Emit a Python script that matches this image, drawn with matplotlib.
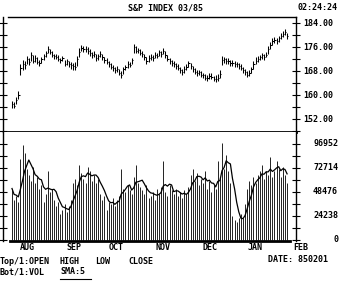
import numpy as np
import pandas as pd
import matplotlib
matplotlib.use("Agg")
import matplotlib.pyplot as plt
import matplotlib.transforms as mtransforms
from matplotlib.lines import Line2D
from matplotlib import font_manager

# ---------------- data ----------------
closes = [157.0, 156.5, 158.5, 160.0, 169.0, 170.5, 170.0, 172.0, 171.0, 173.5,
          171.5, 172.5, 171.0, 170.8, 172.0, 173.0, 174.0, 175.5, 174.2, 173.5,
          173.0, 172.8, 172.0, 171.6, 172.2, 170.5, 171.2, 170.3, 170.0, 169.6,
          169.2, 172.0, 174.5, 175.8, 175.2, 175.5, 174.8, 174.0, 173.2, 173.8,
          172.2, 173.0, 173.8, 172.6, 171.8, 171.0, 170.2, 169.4, 169.0, 168.3,
          168.8, 167.5, 166.8, 168.6, 169.2, 170.4, 170.0, 171.6, 176.0, 174.8,
          175.0, 174.0, 173.6, 172.6, 171.2, 172.4, 172.8, 172.2, 173.4, 173.0,
          174.2, 173.8, 174.8, 173.2, 172.0, 171.4, 170.6, 170.2, 169.6, 169.0,
          168.4, 167.6, 168.8, 169.2, 170.6, 169.6, 168.6, 167.8, 167.2, 167.6,
          166.8, 166.6, 165.8, 165.6, 166.4, 166.0, 165.4, 165.2, 165.8, 167.0,
          171.8, 172.0, 171.2, 171.4, 170.6, 170.8, 170.2, 170.4, 169.6, 169.0,
          168.2, 167.8, 166.8, 167.4, 168.6, 170.4, 171.4, 172.0, 172.6, 173.2,
          172.8, 173.4, 175.2, 176.8, 178.0, 178.4, 178.0, 179.0, 179.8, 180.4,
          181.0, 179.6]

highs = [158.0, 157.6, 159.2, 161.4, 170.2, 171.6, 171.2, 173.0, 172.4, 174.4,
         173.2, 173.4, 172.6, 171.8, 172.8, 173.8, 174.8, 176.2, 175.4, 174.6,
         173.8, 173.6, 173.2, 172.4, 173.0, 171.8, 172.0, 171.4, 171.0, 170.8,
         171.0, 173.0, 175.6, 176.8, 176.4, 176.2, 176.0, 175.2, 174.4, 174.6,
         173.6, 173.8, 174.6, 173.8, 172.8, 172.2, 171.4, 170.6, 170.0, 169.4,
         169.6, 168.8, 168.0, 169.4, 170.0, 171.2, 171.0, 172.4, 177.0, 176.2,
         175.8, 175.2, 174.6, 173.8, 172.6, 173.2, 173.6, 173.4, 174.2, 174.0,
         175.0, 174.8, 175.8, 174.6, 173.4, 172.4, 171.8, 171.2, 170.6, 170.2,
         169.4, 168.8, 169.6, 170.2, 171.4, 170.8, 169.8, 169.0, 168.2, 168.4,
         168.0, 167.4, 167.0, 166.6, 167.2, 167.2, 166.4, 166.8, 167.0, 168.4,
         173.0, 172.8, 172.4, 172.2, 171.8, 171.6, 171.2, 171.0, 170.6, 170.2,
         169.4, 168.8, 168.0, 168.2, 169.4, 171.4, 172.6, 173.0, 173.4, 174.0,
         173.8, 174.4, 176.2, 177.8, 179.0, 179.2, 179.0, 179.8, 180.6, 181.2,
         182.0, 180.6]

lows = [155.8, 155.6, 157.0, 158.6, 166.8, 168.4, 168.8, 170.4, 170.0, 171.2,
        170.6, 171.0, 170.2, 169.6, 170.6, 171.8, 172.8, 174.0, 173.6, 172.8,
        172.0, 172.0, 171.4, 170.8, 171.2, 169.8, 170.0, 169.2, 168.8, 168.4,
        168.2, 169.8, 172.6, 174.6, 174.2, 174.4, 173.8, 173.0, 172.4, 172.6,
        171.4, 171.8, 172.8, 171.8, 170.8, 170.2, 169.4, 168.6, 168.0, 167.4,
        167.6, 166.6, 165.6, 167.0, 168.2, 169.0, 169.2, 170.2, 174.0, 174.0,
        174.0, 173.2, 172.8, 171.8, 170.4, 171.0, 171.8, 171.4, 172.2, 172.2,
        173.0, 172.8, 173.6, 172.4, 171.2, 170.4, 169.8, 169.2, 168.6, 168.2,
        167.4, 166.8, 167.4, 168.2, 169.2, 168.8, 167.8, 167.0, 166.4, 166.6,
        166.0, 165.6, 165.0, 164.8, 165.2, 165.2, 164.6, 164.4, 164.8, 165.6,
        170.0, 170.8, 170.4, 170.2, 169.8, 169.8, 169.4, 169.4, 168.8, 168.2,
        167.4, 166.8, 166.0, 166.4, 167.2, 168.8, 170.4, 171.0, 171.6, 172.0,
        171.8, 172.6, 173.6, 175.4, 176.8, 177.4, 177.0, 177.8, 178.6, 179.4,
        180.0, 178.8]

volume_k = [52, 40, 44, 38, 82, 96, 88, 72, 66, 60,
            74, 58, 64, 52, 56, 38, 46, 70, 48, 52,
            40, 34, 38, 26, 30, 36, 28, 34, 40, 58,
            62, 56, 76, 68, 62, 58, 74, 70, 60, 66,
            58, 62, 46, 40, 44, 30, 38, 36, 42, 34,
            40, 44, 72, 52, 48, 56, 50, 46, 64, 76,
            58, 54, 50, 46, 56, 42, 44, 48, 40, 52,
            46, 54, 80, 48, 44, 56, 50, 46, 52, 44,
            48, 42, 50, 46, 54, 66, 72, 60, 68, 56,
            62, 58, 70, 52, 60, 48, 56, 52, 80, 64,
            98, 72, 86, 70, 58, 24, 20, 18, 22, 26,
            22, 36, 52, 60, 56, 64, 58, 66, 70, 76,
            62, 70, 66, 84, 64, 70, 80, 72, 64, 74,
            66, 58]

price_ticks = [152, 160, 168, 176, 184]
price_tick_labels = ["152.00", "160.00", "168.00", "176.00", "184.00"]
volume_ticks = [0, 24238, 48476, 72714, 96952]
volume_tick_labels = ["0", "24238", "48476", "72714", "96952"]
month_labels = ["AUG", "SEP", "OCT", "NOV", "DEC", "JAN", "FEB"]
month_index = [7.5, 29.5, 49.5, 72, 94.5, 115.5, 137.5]
title_text = "S&P INDEX 03/85"
clock_text = "02:24:24"
date_text = "DATE: 850201"
sma_window = 5

# ---------------- derived ----------------
idx = np.arange(len(closes))
volume = np.array(volume_k) * 1000
sma = pd.Series(volume).rolling(sma_window, min_periods=1).mean()

# condensed font if one is installed, else monospace
def _has_font(name):
    try:
        font_manager.fontManager.findfont(
            font_manager.FontProperties(family=name, weight="bold"),
            fallback_to_default=False)
        return True
    except Exception:
        return False

if _has_font("Liberation Sans Narrow"):
    FONT = dict(family="Liberation Sans Narrow", weight="bold", size=7.2, color="black")
else:
    FONT = dict(family="DejaVu Sans Mono", weight="bold", size=6.0, color="black")

W, H = 341, 284
fig = plt.figure(figsize=(W / 100, H / 100), dpi=100)
fig.patch.set_facecolor("white")


def rect(x0, y0, x1, y1):
    return [x0 / W, 1 - y1 / H, (x1 - x0) / W, (y1 - y0) / H]


def fy(py):
    return 1 - py / H


ax_p = fig.add_axes(rect(3, 17, 296, 132))
ax_v = fig.add_axes(rect(3, 132, 296, 241), sharex=ax_p)

xmin, xmax = -4.29, 135.24
ax_p.set_xlim(xmin, xmax)
ax_p.set_ylim(147.67, 186.0)
ax_v.set_ylim(-1010, 109071)

# price OHLC bars
ax_p.vlines(idx, lows, highs, colors="black", lw=0.75)
ax_p.hlines(closes, idx, idx + 0.6, colors="black", lw=0.75)

# volume bars + SMA
ax_v.vlines(idx, 0, volume, colors="#222222", lw=0.7)
ax_v.plot(idx, sma, color="black", lw=0.9)

for ax in (ax_p, ax_v):
    ax.set_facecolor("white")
    ax.tick_params(axis="x", which="both", bottom=False, top=False,
                   labelbottom=False, labeltop=False)
    ax.tick_params(axis="y", which="both", left=True, right=True,
                   direction="inout", length=6, width=0.8,
                   labelleft=False, labelright=False)
    ax.spines["left"].set_linewidth(1.0)
    ax.spines["right"].set_linewidth(1.0)

ax_p.set_yticks(price_ticks)
ax_p.set_yticks([148, 156, 164, 172, 180], minor=True)
ax_v.set_yticks(volume_ticks)
ax_v.set_yticks([12119, 36357, 60595, 84833], minor=True)

ax_p.spines["top"].set_linewidth(1.0)
ax_p.spines["top"].set_bounds(-1.9, xmax)
ax_p.spines["bottom"].set_linewidth(2.0)
ax_p.spines["bottom"].set_bounds(-1.9, xmax)
ax_v.spines["top"].set_visible(False)
ax_v.spines["bottom"].set_linewidth(2.0)
ax_v.spines["bottom"].set_bounds(-0.95, 132.4)

# right-hand value labels
tp = mtransforms.blended_transform_factory(fig.transFigure, ax_p.transData)
for v, lbl in zip(price_ticks, price_tick_labels):
    fig.text(333 / W, v, lbl, transform=tp, ha="right", va="center", **FONT)
tv = mtransforms.blended_transform_factory(fig.transFigure, ax_v.transData)
for v, lbl in zip(volume_ticks, volume_tick_labels):
    fig.text(338 / W, v, lbl, transform=tv, ha="right", va="center", **FONT)

# month labels
tm = mtransforms.blended_transform_factory(ax_v.transData, fig.transFigure)
for pos, lbl in zip(month_index, month_labels):
    ax_v.text(pos, fy(248), lbl, transform=tm, ha="center", va="center",
              clip_on=False, **FONT)

# header texts
fig.text(166 / W, fy(8), title_text, ha="center", va="center", **FONT)
fig.text(338 / W, fy(8), clock_text, ha="right", va="center", **FONT)

# footer texts
fig.text(0 / W, fy(261), "Top/1:OPEN", ha="left", va="center", **FONT)
fig.text(60 / W, fy(261), "HIGH", ha="left", va="center", **FONT)
fig.text(95 / W, fy(261), "LOW", ha="left", va="center", **FONT)
fig.text(128 / W, fy(261), "CLOSE", ha="left", va="center", **FONT)
fig.text(0 / W, fy(272), "Bot/1:VOL", ha="left", va="center", **FONT)
fig.text(60 / W, fy(272), "SMA:5", ha="left", va="center", **FONT)
fig.add_artist(Line2D([60 / W, 91 / W], [fy(279), fy(279)], color="black", lw=0.8))
fig.text(298 / W, fy(260), date_text, ha="center", va="center", **FONT)

fig.savefig("out.png", dpi=100, facecolor="white")
